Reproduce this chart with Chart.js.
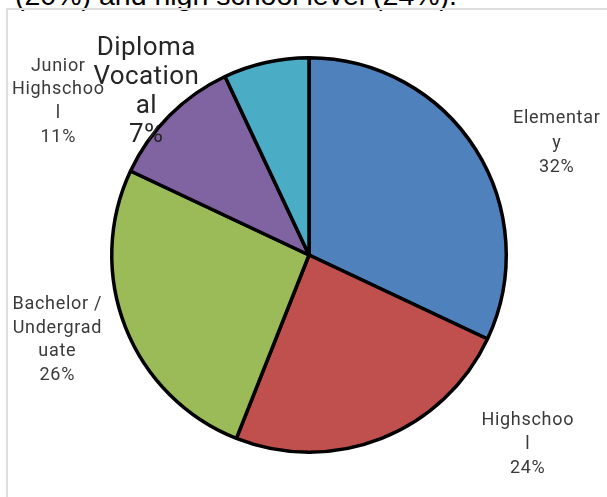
<!DOCTYPE html>
<html>
<head>
<meta charset="utf-8">
<script src="https://cdn.jsdelivr.net/npm/chart.js@4.4.0/dist/chart.umd.min.js"></script>
<style>
  html, body { margin: 0; padding: 0; background: #ffffff; overflow: hidden; }
  #wrap { position: relative; width: 607px; height: 497px; overflow: hidden; }
  #caption { position: absolute; left: 15px; top: -19px; font-family: "Liberation Sans", Arial, sans-serif; font-size: 28.5px; line-height: 28px; color: #000; white-space: nowrap; }
  #frame { position: absolute; left: 6px; top: 8px; width: 700px; height: 600px; border: 2px solid #dedede; box-sizing: border-box; }
  #c { position: absolute; left: 0; top: 0; }
</style>
</head>
<body>
<div id="wrap">
  <div id="caption">(20%) and high school level (24%).</div>
  <div id="frame"></div>
  <canvas id="c" width="607" height="497"></canvas>
</div>
<script>
const categories = ['Elementary', 'Highschool', 'Bachelor / Undergraduate', 'Junior Highschool', 'Diploma Vocational'];
const labelLines = [['Elementar', 'y'], ['Highschoo', 'l'], ['Bachelor /', 'Undergrad', 'uate'], ['Junior', 'Highschoo', 'l'], ['Diploma', 'Vocation', 'al']];
const values = [32, 24, 26, 11, 7];
const colors = ['#4f81bd', '#c0504d', '#9bbb59', '#8064a2', '#4bacc6'];

// label placement relative to pie centre, in units of the pie radius
const labelPos = [[1.256, -0.567], [1.109, 0.962], [-1.276, 0.430], [-1.271, -0.777], [-0.825, -0.828]];
const labelStyle = [
  {size: 18, lh: 24.5, color: '#3a3a3a', ls: '0.7px'},
  {size: 18, lh: 24, color: '#3a3a3a', ls: '0.7px'},
  {size: 18, lh: 23.5, color: '#3a3a3a', ls: '0.7px'},
  {size: 18, lh: 23.7, color: '#3a3a3a', ls: '0.7px'},
  {size: 26, lh: 29, color: '#262626', ls: '0.4px'}
];

const pieLabels = {
  id: 'pieLabels',
  afterDatasetsDraw(chart) {
    const ctx = chart.ctx;
    const meta = chart.getDatasetMeta(0);
    meta.data.forEach((arc, i) => {
      const p = arc.getProps(['x', 'y', 'outerRadius'], true);
      const cx = p.x + labelPos[i][0] * p.outerRadius;
      const cy = p.y + labelPos[i][1] * p.outerRadius;
      const lines = labelLines[i].concat([values[i] + '%']);
      const st = labelStyle[i];
      ctx.save();
      ctx.font = st.size + 'px Roboto, "Liberation Sans", sans-serif';
      ctx.fillStyle = st.color;
      ctx.textAlign = 'center';
      ctx.textBaseline = 'middle';
      try { ctx.letterSpacing = st.ls; } catch (e) {}
      const y0 = cy - (lines.length - 1) * st.lh / 2;
      lines.forEach((t, k) => ctx.fillText(t, cx, y0 + k * st.lh));
      ctx.restore();
    });
  }
};

new Chart(document.getElementById('c'), {
  type: 'pie',
  data: {
    labels: categories,
    datasets: [{
      data: values,
      backgroundColor: colors,
      borderColor: '#000000',
      borderWidth: 3.5,
      borderAlign: 'center'
    }]
  },
  options: {
    responsive: false,
    animation: false,
    devicePixelRatio: 1,
    layout: { padding: { left: 110, right: 99, top: 56, bottom: 43 } },
    plugins: { legend: { display: false }, tooltip: { enabled: false } }
  },
  plugins: [pieLabels]
});
</script>
</body>
</html>
